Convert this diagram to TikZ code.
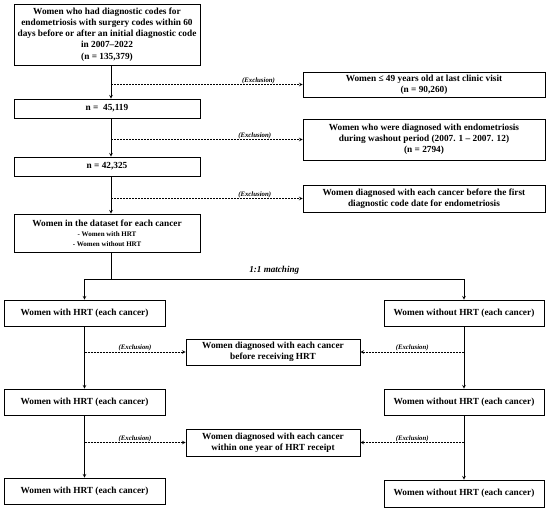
\documentclass[tikz,border=0pt]{standalone}
\usepackage{fontspec}
\setmainfont{Liberation Serif}
\usetikzlibrary{arrows, positioning}

\begin{document}
\begin{tikzpicture}[>=stealth, x=1pt, y=-1pt,
		box/.style={draw, line width=0.8pt, align=center, inner xsep=2pt, inner ysep=1pt, font=\fontsize{9.3}{11.2}\selectfont\bfseries},
		excl/.style={above=0.5pt, inner sep=0pt, font=\fontsize{6.8}{8}\selectfont\bfseries\itshape},
		flow/.style={line width=0.6pt, ->},
		side/.style={line width=0.6pt, dash pattern=on 2pt off 1pt, ->}]
		\useasboundingbox (0,0) rectangle (550,511);
		\coordinate (spine) at (111,0);
		\coordinate (split) at (0,279);
		%top
			%left side
			\node [box, minimum width=186, minimum height=61] (all) at (107,34.5) {Women who had diagnostic codes for\\endometriosis with surgery codes within 60\\days before or after an initial diagnostic code\\in 2007--2022\\(n = 135,379)};
			\node [box, minimum width=186, minimum height=19] (n1) at (107,108.5) {n =\ \ 45,119};
			\node [box, minimum width=186, minimum height=19] (n2) at (107,166.5) {n = 42,325};
			\node [box, minimum width=186, minimum height=38] (data) at (107,233) {Women in the dataset for each cancer\\[-1pt]{\fontsize{7}{8.5}\selectfont - Women with HRT}\\[-1.5pt]{\fontsize{7}{8.5}\selectfont - Women without HRT}};
			%right side
			\node [box, minimum width=242, minimum height=25] (old) at (424,84.5) {Women ≤ 49 years old at last clinic visit\\(n = 90,260)};
			\node [box, minimum width=242, minimum height=41] (wash) at (424,139.5) {Women who were diagnosed with endometriosis\\during washout period (2007. 1 -- 2007. 12)\\(n = 2794)};
			\node [box, minimum width=242, minimum height=27] (prior) at (424,198.5) {Women diagnosed with each cancer before the first\\diagnostic code date for endometriosis};
			%arrows
			\draw [flow] (all.south -| spine) -- (n1.north -| spine);
			\draw [flow] (n1.south -| spine) -- (n2.north -| spine);
			\draw [flow] (n2.south -| spine) -- (data.north -| spine);
			\draw [side] (spine |- old.west) -- node [excl, pos=0.77] {(Exclusion)} (old.west);
			\draw [side] (spine |- wash.west) -- node [excl, pos=0.75] {(Exclusion)} (wash.west);
			\draw [side] (spine |- prior.west) -- node [excl, pos=0.75] {(Exclusion)} (prior.west);
		%bottom
			%left side
			\node [box, minimum width=161, minimum height=26] (hrt1) at (84.5,313) {Women with HRT (each cancer)};
			\node [box, minimum width=161, minimum height=26] (hrt2) at (84.5,402) {Women with HRT (each cancer)};
			\node [box, minimum width=161, minimum height=26] (hrt3) at (84.5,491) {Women with HRT (each cancer)};
			%right side
			\node [box, minimum width=160, minimum height=26] (non1) at (464,313) {Women without HRT (each cancer)};
			\node [box, minimum width=160, minimum height=26] (non2) at (464,402) {Women without HRT (each cancer)};
			\node [box, minimum width=160, minimum height=27] (non3) at (464,493.5) {Women without HRT (each cancer)};
			%middle
			\node [box, minimum width=174, minimum height=26] (early) at (273,352) {Women diagnosed with each cancer\\before receiving HRT};
			\node [box, minimum width=174, minimum height=27] (year) at (273,442.5) {Women diagnosed with each cancer\\within one year of HRT receipt};
			%arrows
			\draw [line width=0.6pt] (data.south -| spine) -- (spine |- split);
			\draw [line width=0.6pt] (hrt1.north |- split) -- node [above=1pt, font=\fontsize{9.1}{10}\selectfont\bfseries\itshape] {1:1 matching} (non1.north |- split);
			\draw [flow] (hrt1.north |- split) -- (hrt1.north);
			\draw [flow] (non1.north |- split) -- (non1.north);
			\draw [flow] (hrt1) -- (hrt2);
			\draw [flow] (hrt2) -- (hrt3);
			\draw [flow] (non1) -- (non2);
			\draw [flow] (non2) -- (non3);
			\draw [side] (hrt1.south |- early.west) -- node [excl] {(Exclusion)} (early.west);
			\draw [side] (non1.south |- early.east) -- node [excl] {(Exclusion)} (early.east);
			\draw [side] (hrt2.south |- year.west) -- node [excl] {(Exclusion)} (year.west);
			\draw [side] (non2.south |- year.east) -- node [excl] {(Exclusion)} (year.east);
		\end{tikzpicture}
\end{document}
